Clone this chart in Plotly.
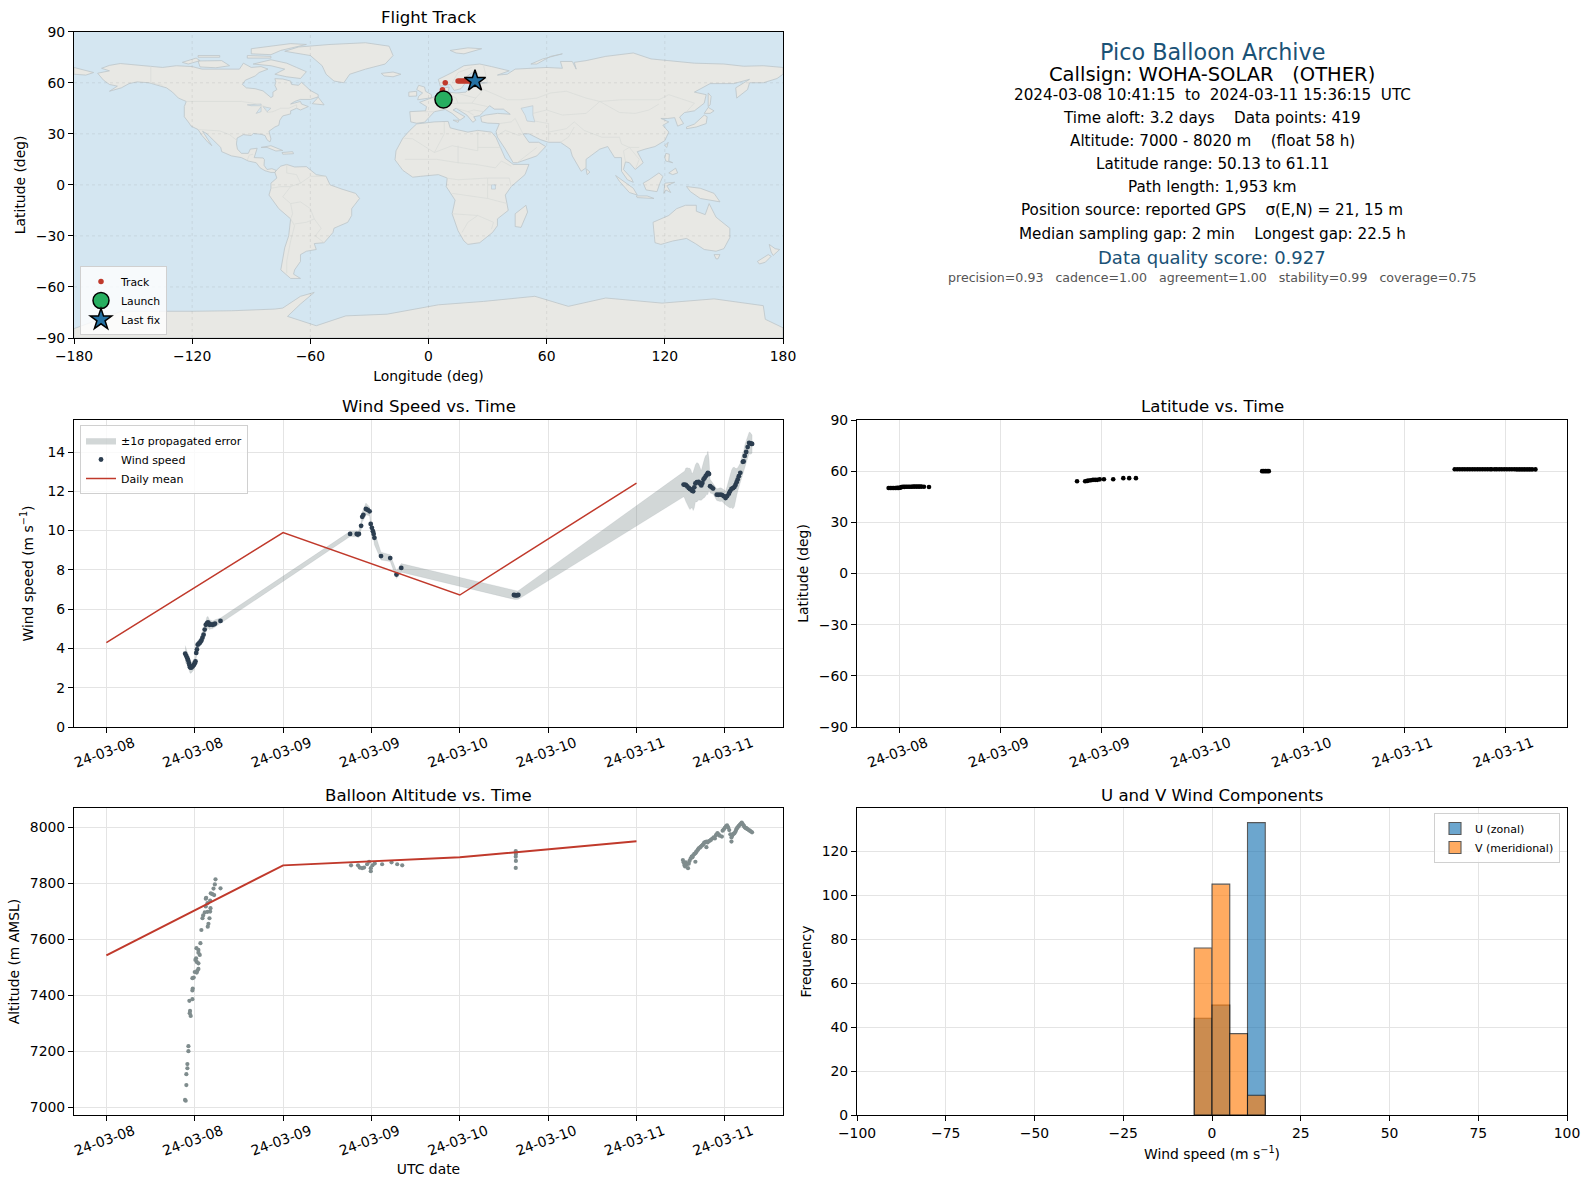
# Pico balloon flight summary
import pandas as pd
import plotly.graph_objects as go

W, H = 1589, 1189
T0 = pd.Timestamp("2024-03-08 00:00:00")

# --- flight data (time = hours since 2024-03-08 00:00 UTC) ---
wind_hours = [10.7, 10.85, 11.0, 11.1, 11.2, 11.3, 11.36, 11.5, 11.6, 11.75, 11.9, 12.0, 12.1, 12.2, 12.3, 12.4, 12.55, 12.67,
              12.8, 12.9, 13.05, 13.2, 13.35, 13.5, 13.65, 13.8, 13.9, 14.0, 14.2, 14.4, 14.6, 14.75, 15.5,
              33.1, 34.0, 34.15, 34.3, 34.6, 34.75, 34.9, 35.25, 35.5, 35.75, 35.9, 36.06, 36.2, 36.3, 36.4, 37.3, 38.55, 39.4, 40.05,
              55.35, 55.5, 55.65, 55.8, 55.95,
              78.4, 78.55, 78.7, 78.9, 79.1, 79.25, 79.4, 79.55, 79.7, 79.85, 80.0, 80.2, 80.45, 80.6, 80.8, 80.95, 81.1, 81.25, 81.4, 81.55, 81.7, 81.85,
              82.0, 82.2, 82.4, 82.9, 83.1, 83.35, 83.6, 83.85, 84.1, 84.3, 84.55, 84.7, 84.9, 85.1, 85.3, 85.45, 85.6, 85.75, 85.9, 86.1,
              86.45, 86.55, 86.7, 86.9, 87.1, 87.3, 87.45, 87.6, 87.7]
wind_speed = [3.73, 3.62, 3.5, 3.4, 3.26, 3.15, 3.04, 3.02, 3.05, 3.1, 3.17, 3.25, 3.34, 3.77, 3.95, 4.19, 4.24, 4.28,
              4.35, 4.41, 4.55, 4.7, 4.96, 5.2, 5.28, 5.33, 5.27, 5.2, 5.22, 5.2, 5.22, 5.26, 5.4,
              9.83, 9.83, 9.8, 9.83, 10.24, 10.7, 10.8, 11.1, 11.05, 10.98, 10.34, 10.14, 9.97, 9.83, 9.63, 8.7, 8.6, 7.76, 8.1,
              6.72, 6.71, 6.7, 6.71, 6.72,
              12.34, 12.33, 12.33, 12.25, 12.17, 12.12, 12.09, 12.03, 12.0, 12.2, 12.4, 12.46, 12.48, 12.4, 12.3, 12.42, 12.6, 12.68, 12.77, 12.85, 12.94, 12.88,
              12.26, 12.2, 12.14, 11.83, 11.82, 11.83, 11.82, 11.75, 11.66, 11.75, 11.88, 12.0, 12.12, 12.16, 12.22, 12.32, 12.46, 12.6, 12.77, 12.94,
              13.5, 13.52, 13.8, 14.0, 14.25, 14.46, 14.44, 14.42, 14.41]
wind_sigma = [0.42, 0.38, 0.35, 0.33, 0.32, 0.3, 0.3, 0.28, 0.27, 0.25, 0.25, 0.22, 0.22, 0.2, 0.2, 0.2, 0.2, 0.2,
              0.2, 0.2, 0.25, 0.3, 0.3, 0.3, 0.32, 0.3, 0.25, 0.25, 0.22, 0.2, 0.2, 0.2, 0.15,
              0.13, 0.15, 0.15, 0.18, 0.2, 0.25, 0.28, 0.3, 0.25, 0.22, 0.2, 0.2, 0.25, 0.3, 0.35, 0.2, 0.17, 0.2, 0.22,
              0.22, 0.22, 0.22, 0.22, 0.22,
              0.62, 0.7, 0.85, 0.95, 1.0, 1.05, 1.0, 0.85, 0.98, 1.05, 0.95, 1.0, 0.92, 0.85, 0.75, 0.85, 0.95, 1.0, 1.05, 1.0, 1.1, 0.8,
              0.35, 0.3, 0.28, 0.3, 0.32, 0.35, 0.33, 0.35, 0.36, 0.5, 0.7, 0.85, 0.95, 1.05, 1.0, 0.85, 0.7, 0.6, 0.55, 0.5,
              0.5, 0.52, 0.55, 0.55, 0.55, 0.55, 0.55, 0.52, 0.45]

mean_hours = [0, 24, 48, 72]
mean_speed = [4.3, 9.9, 6.72, 12.42]
mean_altitude = [7542, 7864, 7893, 7950]

lat_hours = [10.7, 10.9, 11.1, 11.3, 11.5, 11.7, 11.9, 12.1, 12.2, 12.4, 12.6, 12.8, 13.0, 13.2, 13.4, 13.6, 13.8, 14.0, 14.2, 14.4, 14.6, 14.9, 15.5,
             33.1, 34.06, 34.3, 34.5, 34.75, 35.0, 35.25, 35.5, 35.8, 36.3, 37.4, 38.6, 39.3, 40.1,
             55.1, 55.3, 55.5, 55.7, 55.9,
             78.0, 78.3, 78.6, 78.9, 79.2, 79.5, 79.8, 80.1, 80.4, 80.7, 81.0, 81.3, 81.6, 81.9, 82.2, 82.4,
             82.75, 83.0, 83.3, 83.6, 83.9, 84.2, 84.5, 84.8, 85.1, 85.4, 85.7, 86.0, 86.3, 86.6, 86.9, 87.2, 87.6]
latitude = [50.13, 50.13, 50.15, 50.15, 50.15, 50.2, 50.2, 50.3, 50.75, 50.8, 50.8, 50.85, 50.9, 50.9, 50.9, 50.95, 50.95, 50.95, 50.95, 50.95, 50.95, 50.9, 50.7,
            54.1, 54.1, 54.3, 54.5, 54.7, 54.9, 54.9, 54.9, 55.2, 55.3, 55.3, 55.9, 55.9, 55.9,
            60.0, 60.0, 60.0, 60.0, 60.0,
            61.1, 61.1, 61.1, 61.1, 61.11, 61.11, 61.1, 61.1, 61.1, 61.1, 61.1, 61.1, 61.1, 61.1, 61.1, 61.1,
            61.1, 61.1, 61.1, 61.1, 61.1, 61.1, 61.1, 61.1, 61.1, 61.05, 61.05, 61.05, 61.05, 61.05, 61.05, 61.05, 61.05]

alt_hours = [10.77, 10.68, 10.86, 10.86, 11.0, 11.0, 11.14, 11.14, 11.45, 11.32, 11.36, 11.27, 11.68, 11.68, 11.73, 11.68, 11.86, 12.0, 12.27, 12.5, 12.36, 12.5, 12.27, 12.09, 12.18,
             12.68, 12.5, 12.5, 12.23, 12.77, 12.9, 13.77, 13.86, 13.05, 13.14, 13.36, 13.73, 14.09, 14.0, 14.14, 13.5, 13.73, 14.09, 13.5, 13.55, 14.18, 14.41, 14.55, 14.73, 14.82, 15.5, 14.64,
             33.23, 34.18, 34.41, 34.73, 35.0, 35.41, 35.68, 35.91, 35.91, 36.14, 36.45, 37.45, 38.73, 39.5, 40.18,
             55.6, 55.62, 55.6, 55.62, 55.6,
             78.3, 78.4, 78.5, 78.6, 78.7, 78.85, 79.0, 79.1, 79.2, 79.35, 79.5, 79.6, 79.7, 79.85, 80.0, 80.0, 80.1, 80.2, 80.35, 80.45, 80.6, 80.7, 80.85, 81.0, 81.1, 81.2, 81.35, 81.5, 81.5, 81.65, 81.8, 81.95, 82.1, 82.3, 82.5, 82.65, 82.8, 82.9, 83.0, 83.15, 83.3, 83.6, 83.7, 83.85, 84.0, 84.15, 84.3, 84.45, 84.6, 84.75, 84.9, 84.9, 85.0, 85.1, 85.2, 85.3, 85.45, 85.55, 85.65, 85.8, 85.9, 86.05, 86.2, 86.3, 86.4, 86.5, 86.6, 86.7, 86.8, 86.9, 87.0, 87.1, 87.25, 87.4, 87.55, 87.7]
altitude = [7023, 7026, 7079, 7118, 7139, 7154, 7200, 7218, 7326, 7336, 7344, 7380, 7386, 7417, 7424, 7461, 7463, 7483, 7481, 7494, 7488, 7514, 7519, 7526, 7532,
            7544, 7552, 7562, 7568, 7586, 7633, 7645, 7655, 7675, 7685, 7696, 7698, 7699, 7675, 7711, 7717, 7729, 7738, 7745, 7748, 7764, 7761, 7781, 7796, 7814, 7782, 7758,
            7864, 7864, 7856, 7854, 7856, 7868, 7877, 7854, 7843, 7864, 7871, 7868, 7875, 7868, 7864,
            7915, 7905, 7895, 7880, 7855,
            7883, 7875, 7865, 7860, 7875, 7868, 7854, 7870, 7880, 7888, 7895, 7893, 7900, 7905, 7907, 7877, 7912, 7915, 7920, 7925, 7927, 7930, 7934, 7937, 7940, 7945, 7947, 7949, 7929, 7946, 7950, 7952, 7955, 7960, 7964, 7960, 7972, 7975, 7979, 7975, 7970, 7967, 7988, 7992, 7998, 8003, 8007, 8000, 7990, 7975, 7949, 7964, 7970, 7975, 7977, 7979, 7985, 7992, 7997, 8002, 8005, 8010, 8013, 8017, 8012, 8008, 8005, 8000, 7998, 7997, 7995, 7993, 7990, 7988, 7985, 7982]

hist_edges = [-5, 0, 5, 10]
u_counts = [44, 50, 0, 133]
v_counts = [76, 105, 37, 9]

track_lon = [7.0, 7.2, 7.4, 7.0, 7.1, 8.5, 15.0, 16.0, 17.0, 18.0, 19.0, 20.0, 21.0, 22.0, 23.0]
track_lat = [50.13, 50.8, 50.9, 54.5, 55.9, 60.0, 61.1, 61.1, 61.1, 61.1, 61.1, 61.1, 61.1, 61.05, 61.05]
launch_lon, launch_lat = [7.6], [50.13]
last_lon, last_lat = [23.6], [61.05]

# --- axis ticks ---
lon_ticks = [-180, -120, -60, 0, 60, 120, 180]
lat_ticks = [-90, -60, -30, 0, 30, 60, 90]
left_tick_hours = [0, 12, 24, 36, 48, 60, 72, 84]
left_tick_text = ["24-03-08", "24-03-08", "24-03-09", "24-03-09", "24-03-10", "24-03-10", "24-03-11", "24-03-11"]
lat_tick_hours = [12, 24, 36, 48, 60, 72, 84]
lat_tick_text = ["24-03-08", "24-03-09", "24-03-09", "24-03-10", "24-03-10", "24-03-11", "24-03-11"]

# --- base map outlines (lon, lat), rough coastlines since no geo tiles are reachable ---
north_america = [(-168, 65.6), (-164, 66.5), (-162, 67), (-166, 68.5), (-162, 70.2), (-156.5, 71.3), (-150, 70.5), (-141, 69.7), (-135, 69), (-128, 70), (-120, 69.5), (-115, 68), (-108, 68), (-102, 68), (-96, 68), (-94, 71.5), (-90, 69), (-85, 69.5), (-81.5, 68), (-86, 66), (-88, 64), (-93, 61.5), (-94.5, 59), (-92.5, 57), (-88, 56.5), (-84, 55.2), (-82, 53), (-80, 51.3), (-79, 52), (-79, 54.5), (-77, 56), (-78, 58.5), (-77.5, 60.5), (-78, 62.4), (-74, 62.2), (-70, 61), (-69.5, 59), (-66, 58.5), (-64.5, 60.3), (-62, 57.5), (-60, 55.5), (-56, 53), (-56, 51.7), (-60, 50.2), (-65, 50.2), (-68, 49), (-70, 47.5), (-65, 49), (-64.5, 47.5), (-61, 46), (-65, 44), (-67, 45), (-70, 43.5), (-70, 41.7), (-74, 40.5), (-75.5, 38), (-76, 35), (-78, 34), (-81, 31.5), (-80, 27), (-80.5, 25.2), (-82, 26.5), (-83, 29), (-85, 29.7), (-89, 30.2), (-90, 29), (-94, 29.5), (-97.2, 27.5), (-97.5, 24), (-97, 21), (-95, 18.5), (-91.5, 18.5), (-90.5, 21), (-87, 21.5), (-88, 18), (-88.5, 16), (-84, 15.8), (-83.3, 14.8), (-83.5, 11.5), (-82, 9), (-79.5, 9.5), (-77.3, 8.5), (-78, 7.3), (-80, 7.3), (-83, 8.3), (-85.5, 10), (-87.5, 13), (-91.5, 14), (-95, 16), (-100, 17), (-105, 19.5), (-105.5, 22), (-109, 26), (-112.5, 30), (-114.7, 31.5), (-112, 27), (-110, 23), (-112, 25), (-115, 29), (-117, 32.5), (-120.5, 34.5), (-122, 37), (-124, 40), (-124, 46), (-123, 49), (-127, 51), (-130, 54.5), (-133, 57), (-137, 58.5), (-142, 60), (-148, 60.5), (-152, 59.5), (-156, 57), (-162, 55), (-158, 58), (-162, 59), (-165, 61.5)]
greenland = [(-73, 78.5), (-66, 81), (-50, 82.5), (-32, 83.5), (-20, 81.5), (-18, 76), (-22, 71), (-32, 68), (-40, 65), (-43, 60), (-48, 61), (-52, 65), (-54, 70), (-60, 76)]
baffin = [(-80, 73.5), (-72, 71.5), (-67, 69), (-62, 66.5), (-65, 62.5), (-72, 63.5), (-78, 65), (-73, 68), (-80, 70), (-89, 71)]
victoria_island = [(-117, 72.8), (-105, 73), (-101, 70), (-108, 68.8), (-116, 69.3)]
ellesmere = [(-90, 80), (-70, 83), (-62, 82.5), (-75, 79), (-80, 76.5), (-90, 77)]
banks = [(-125, 72), (-118, 74.5), (-116, 73), (-122, 71)]
devon = [(-92, 76), (-80, 75.5), (-80, 74.5), (-92, 74.5)]
melville = [(-117, 76), (-106, 76), (-106, 75), (-117, 75)]
newfoundland = [(-59, 47.7), (-56, 51.5), (-53, 47)]
cuba = [(-85, 22), (-80, 23), (-74, 20.2), (-77.5, 19.9), (-82, 22)]
hispaniola = [(-74.4, 19), (-69, 19.5), (-68.5, 18.3), (-74, 18)]
south_america = [(-77.3, 8.5), (-75, 11), (-72, 12), (-68, 10.5), (-62, 10.7), (-57, 6), (-52, 5), (-50, 0), (-44, -2.5), (-37, -5), (-35, -8), (-39, -14), (-39, -18), (-41, -22), (-48, -25.5), (-48.5, -28), (-53, -34), (-58, -34.5), (-57, -38), (-62, -39), (-65, -41), (-65, -45), (-68, -50), (-68.5, -52.5), (-65, -55), (-70, -55), (-75, -50), (-74, -43), (-73, -37), (-71, -30), (-70, -20), (-76, -14), (-81, -6), (-80, -2), (-80, 1), (-77, 4), (-78, 7.3)]
africa = [(-6, 35.8), (3, 37), (10, 37.3), (11, 33.5), (15, 32.3), (20, 31), (25, 32), (32, 31), (34.2, 28), (37, 21), (39, 15.5), (43, 12), (51, 12), (49, 6), (42, -1), (39, -6), (40.5, -15), (35, -20), (35, -24), (32.5, -28), (26, -34), (20, -35), (18, -33), (15, -27), (12, -17), (13.5, -9), (9, -1), (9.5, 4), (5, 6), (-4, 5), (-8, 4.5), (-13, 8.5), (-17, 14.7), (-16.5, 20), (-13, 27.5), (-9.5, 32)]
eurasia = [(-9, 37), (-9.5, 43), (-1.5, 43.5), (-1, 46), (-4.5, 48.5), (2, 51), (6, 53), (8.5, 54), (8, 57), (10.5, 57.5), (10, 54.5), (14, 54), (19, 54.5), (21, 57), (24, 57.5), (24, 59.5), (30, 60), (23, 60), (21.5, 63), (25, 65.5), (22, 65.8), (17.5, 62), (18.5, 59.5), (16.5, 56.5), (13, 55.5), (11, 59), (6, 58), (5, 62), (12, 66), (18, 70), (26, 71), (32, 69.5), (41, 67), (35, 64.5), (40, 65), (44, 68), (54, 68.5), (60, 69), (68, 68.5), (67, 72.5), (73, 72.5), (75, 68), (74, 72), (80, 73), (90, 75.5), (104, 77.5), (113, 74), (128, 72.5), (135, 71.5), (150, 71), (160, 69.7), (170, 70), (180, 69), (180, 65), (177, 62.5), (170, 60), (163, 60), (162, 56), (156.5, 51), (156, 57), (163, 62), (155, 59.5), (143, 59.5), (135, 54.5), (141, 53), (140, 48), (135, 43.5), (130, 42.5), (127.5, 39.8), (129.5, 36), (126.5, 34.5), (125, 39.5), (121.5, 39), (118, 39), (122, 37), (119, 35), (122, 31), (120, 26), (115, 22.5), (110, 21), (106, 19.5), (109, 13), (105, 9), (102, 13), (100, 13.5), (99, 9), (103, 4), (104, 1.5), (101, 3), (98, 8), (98, 16), (94.5, 16), (91, 22.5), (87, 21), (80, 15), (80, 10), (77.5, 8), (73, 17), (72, 21), (67, 25), (61, 25), (57, 26.5), (51, 30), (48, 30), (51, 25), (56, 25), (59.5, 22.5), (55, 17), (45, 13), (43, 13), (39, 21), (35, 28), (34.3, 31.3), (36, 36), (30, 36.3), (27, 37), (26.5, 40), (29, 41), (35, 42), (41.5, 41.5), (38, 44.5), (33.5, 44.5), (31, 46.5), (28, 43), (26, 40.7), (23, 40), (24, 38), (22.5, 36.8), (19.5, 41), (14, 45), (12.5, 44), (18.5, 40), (16, 38), (12, 42), (8.5, 44.3), (3, 43), (0, 39), (-2, 36.8), (-6, 36.2)]
chukotka = [(-180, 69), (-175, 67.5), (-170, 66), (-174, 64.5), (-180, 65)]
britain = [(-5.5, 50), (1.5, 51.2), (1.5, 53), (-1.5, 55), (-2, 57.5), (-5, 58.5), (-6, 56), (-3, 54), (-5, 52)]
ireland = [(-10, 52), (-6, 52.2), (-6, 55), (-10, 54.5)]
iceland = [(-24, 65.5), (-18, 66.3), (-14, 65), (-18, 63.5), (-22.5, 64)]
svalbard = [(11, 79), (20, 80.5), (27, 80), (18, 77), (14, 77.5)]
novaya_zemlya = [(52, 71), (58, 74), (68, 77), (62, 75.5), (55, 71)]
sicily = [(12.5, 38), (15.5, 38), (15, 36.7)]
honshu = [(131, 34), (135, 35.7), (140, 41), (141.5, 40), (141, 36), (136, 34), (131, 33)]
hokkaido = [(140, 42), (142, 45.5), (145, 43.5), (143, 42)]
sakhalin = [(142, 46), (142, 54), (143.5, 52), (143, 47)]
taiwan = [(120, 23), (121.7, 25), (121, 22)]
luzon = [(120, 16), (120.5, 18.5), (122.3, 18), (122, 14), (124, 13), (120.5, 14)]
mindanao = [(122, 7), (125.5, 9.8), (126.5, 7), (124, 6)]
sumatra = [(95, 5.5), (104, -2), (106, -6), (102, -4.5), (97, 2)]
borneo = [(109, 1), (112, 3), (117, 7), (119, 5), (117.5, 1), (116, -4), (110.5, -3)]
java = [(105.5, -6.5), (111, -6.5), (114.5, -8), (106, -7.5)]
sulawesi = [(119.5, -5), (120, 1), (125, 1.5), (121, -0.5), (123, -4.5), (120.5, -3)]
new_guinea = [(131, -1), (138, -2), (145, -5), (148, -10), (143, -9), (138, -8), (133, -4)]
sri_lanka = [(80, 9.5), (82, 7.5), (80.5, 6)]
australia = [(114, -22), (122, -18), (126, -14), (130.5, -12), (136, -12), (136, -15.5), (140.5, -17.5), (142.5, -11), (146, -19), (153, -25.5), (153, -31), (150, -37.5), (146, -39), (140, -38), (135.5, -34.5), (131, -31.5), (124, -33), (118, -35), (115, -34)]
tasmania = [(145, -41), (148, -41), (147, -43.5), (146, -43.5)]
nz_north = [(173, -35), (176, -37.5), (178.3, -38), (175, -41.5), (174, -39.5)]
nz_south = [(172.5, -41), (174, -42), (171, -45.5), (168, -46.5), (167, -45)]
madagascar = [(49.5, -12), (50.3, -16), (47, -25), (44, -24.5), (44, -17)]
antarctica = [(-180, -84.5), (-156, -74.3), (-120, -74.3), (-100, -74), (-78, -73), (-74, -72.4), (-65, -65.5), (-58, -63.2), (-65, -70), (-71.6, -77.3), (-57, -82.8), (-42, -77), (-21, -76), (5, -70.5), (28, -68.5), (54, -65.5), (71, -71.4), (90, -66.5), (118.6, -69.5), (145, -67), (170, -71), (171, -79), (180, -84), (180, -90), (-180, -90)]
land_polygons = [north_america, greenland, baffin, victoria_island, ellesmere, banks, devon, melville, newfoundland, cuba, hispaniola,
                 south_america, africa, eurasia, chukotka, britain, ireland, iceland, svalbard, novaya_zemlya, sicily, honshu, hokkaido,
                 sakhalin, taiwan, luzon, mindanao, sumatra, borneo, java, sulawesi, new_guinea, sri_lanka, australia, tasmania,
                 nz_north, nz_south, madagascar, antarctica]
lake_polygons = [[(47, 45), (53, 46.5), (53, 41), (54, 37), (50, 37.5), (49, 41)],
                 [(-92, 47), (-85, 47.5), (-85, 46.5), (-90, 46.5)],
                 [(-87.5, 42), (-85, 46), (-85, 43)],
                 [(-84, 46), (-80, 45), (-82, 43)],
                 [(32, 0), (34, 0), (34, -2.5), (32, -2.5)]]
border_lines = [[(-123, 49), (-95, 49), (-89, 48), (-83, 46), (-82, 42.5), (-79, 43), (-75, 45), (-71, 45), (-67, 47), (-67, 45)],
                [(-141, 69.7), (-141, 60), (-135, 58.5)],
                [(-117, 32.5), (-108, 31.5), (-106, 31.7), (-101, 29.5), (-97.2, 26)],
                [(-92, 14.5), (-91, 17.5), (-89, 18)],
                [(-52, 5), (-60, 5), (-65, 1), (-70, -1), (-74, -7), (-70, -11), (-65, -10), (-60, -14), (-58, -20), (-54.5, -25.5), (-57.5, -30), (-53, -34)],
                [(-70, -20), (-68, -24), (-70, -33), (-72, -45), (-72, -52)],
                [(-70, -11), (-69, -17), (-70, -20)],
                [(-58, -20), (-62, -22), (-68, -23)],
                [(-72, 12), (-72, 7), (-67, 6), (-65, 1)],
                [(-80, -2), (-75, -1), (-70, -1)],
                [(-13, 27.5), (-8, 27), (3, 19), (12, 23), (25, 20), (25, 31.5)],
                [(25, 22), (37, 22)],
                [(-12, 15), (4, 15), (15, 13), (24, 12), (34, 10), (37, 14), (42, 11)],
                [(9, 4), (15, 3), (30, 4), (41, 4), (42, -1)],
                [(12, -5), (30, -8), (40, -11)],
                [(12, -17), (25, -18), (33, -22), (32, -26)],
                [(17, -28), (20, -22), (25, -18)],
                [(8, 37), (8, 30), (3, 19)],
                [(15, 13), (15, 23)],
                [(30, 4), (30, -8)],
                [(28, 56), (40, 50), (47, 50), (55, 51), (62, 54), (70, 55), (80, 51), (87, 49), (98, 50), (107, 50), (117, 50), (122, 53), (135, 48), (131, 43)],
                [(74, 37), (79, 32), (88, 28), (97, 28), (98, 24), (102, 22), (107, 22)],
                [(87, 49), (97, 42.5), (105, 42), (112, 44), (117, 47.5)],
                [(53, 42), (60, 44), (68, 41), (80, 42), (87, 49)],
                [(44, 39), (46, 34), (48, 30)],
                [(61, 25), (61, 31), (61, 36), (54, 37.5)],
                [(61, 31), (70, 33), (74, 37)],
                [(67, 25), (71, 28), (74, 34)],
                [(36, 36), (42, 37), (44, 39)],
                [(35, 29), (39, 32), (46, 29), (48, 30)],
                [(45, 13), (52, 19), (55, 22)],
                [(-2, 43), (3, 43)],
                [(2, 51), (8, 49), (7, 44)],
                [(8.5, 54), (14, 51), (15, 48), (9, 47.5)],
                [(14, 54), (24, 51), (28, 56)],
                [(24, 51), (22, 48), (30, 46)],
                [(15, 48), (22, 48)],
                [(14, 45), (20, 43), (23, 41)],
                [(28, 43), (23, 44), (20, 43)],
                [(30, 60), (28, 70)],
                [(12, 60), (15, 66), (22, 69)],
                [(100, 13.5), (99, 20), (102, 22)],
                [(105, 9), (107, 15), (102, 22)]]


def hours_to_time(hours):
    return T0 + pd.to_timedelta(hours, unit="h")


def polygon_xy(polygons):
    xs, ys = [], []
    for poly in polygons:
        xs += [p[0] for p in poly] + [poly[0][0], None]
        ys += [p[1] for p in poly] + [poly[0][1], None]
    return xs, ys


def polyline_xy(lines):
    xs, ys = [], []
    for line in lines:
        xs += [p[0] for p in line] + [None]
        ys += [p[1] for p in line] + [None]
    return xs, ys


def dom_x(left, right):
    return [left / W, right / W]


def dom_y(top, bottom):
    return [1 - bottom / H, 1 - top / H]


COL_MEAN = "#c0392b"
COL_WIND = "#2c3e50"
COL_ALT = "#7f8c8d"
COL_TITLE = "#1a5276"
GRID = "#e4e4e4"
FONT = "DejaVu Sans"
SIZE = 13.9

fig = go.Figure()

# Flight track map
land_x, land_y = polygon_xy(land_polygons)
fig.add_trace(go.Scatter(x=land_x, y=land_y, mode="lines", fill="toself", fillcolor="#e8e8e4",
                         line=dict(color="#bcc5c9", width=0.8), showlegend=False, hoverinfo="skip", xaxis="x", yaxis="y"))
lake_x, lake_y = polygon_xy(lake_polygons)
fig.add_trace(go.Scatter(x=lake_x, y=lake_y, mode="lines", fill="toself", fillcolor="#d4e6f1",
                         line=dict(color="#bcc5c9", width=0.6), showlegend=False, hoverinfo="skip", xaxis="x", yaxis="y"))
border_x, border_y = polyline_xy(border_lines)
fig.add_trace(go.Scatter(x=border_x, y=border_y, mode="lines", line=dict(color="#d9dbd8", width=0.7),
                         showlegend=False, hoverinfo="skip", xaxis="x", yaxis="y"))
# gridlines have to sit over the land, so they are a trace here
grid_x, grid_y = [], []
for lon in lon_ticks[1:-1]:
    grid_x += [lon, lon, None]
    grid_y += [-90, 90, None]
for lat in lat_ticks[1:-1]:
    grid_x += [-180, 180, None]
    grid_y += [lat, lat, None]
fig.add_trace(go.Scatter(x=grid_x, y=grid_y, mode="lines", line=dict(color="rgba(128,128,128,0.3)", width=0.5, dash="dot"),
                         showlegend=False, hoverinfo="skip", xaxis="x", yaxis="y"))
fig.add_trace(go.Scatter(x=track_lon, y=track_lat, mode="markers", name="Track", legend="legend",
                         marker=dict(color=COL_MEAN, size=5.5), xaxis="x", yaxis="y"))
fig.add_trace(go.Scatter(x=launch_lon, y=launch_lat, mode="markers", name="Launch", legend="legend",
                         marker=dict(color="#27ae60", size=17, line=dict(color="black", width=1.5)), xaxis="x", yaxis="y"))
fig.add_trace(go.Scatter(x=last_lon, y=last_lat, mode="markers", name="Last fix", legend="legend",
                         marker=dict(color="#2471a3", size=16, symbol="star", line=dict(color="black", width=1.5)), xaxis="x", yaxis="y"))

# Wind speed
wind_time = hours_to_time(wind_hours)
upper = [v + s for v, s in zip(wind_speed, wind_sigma)]
lower = [v - s for v, s in zip(wind_speed, wind_sigma)]
fig.add_trace(go.Scatter(x=list(wind_time) + list(wind_time[::-1]), y=upper + lower[::-1], mode="lines", fill="toself",
                         fillcolor="rgba(127,140,141,0.35)", line=dict(color="rgba(127,140,141,0.2)", width=0.6),
                         name="±1σ propagated error", legend="legend2", xaxis="x2", yaxis="y2"))
fig.add_trace(go.Scatter(x=wind_time, y=wind_speed, mode="markers", name="Wind speed", legend="legend2",
                         marker=dict(color=COL_WIND, size=4.8), xaxis="x2", yaxis="y2"))
fig.add_trace(go.Scatter(x=hours_to_time(mean_hours), y=mean_speed, mode="lines", name="Daily mean", legend="legend2",
                         line=dict(color=COL_MEAN, width=1.5), xaxis="x2", yaxis="y2"))

# Latitude
fig.add_trace(go.Scatter(x=hours_to_time(lat_hours), y=latitude, mode="markers", showlegend=False,
                         marker=dict(color="black", size=4.6), xaxis="x3", yaxis="y3"))

# Altitude
fig.add_trace(go.Scatter(x=hours_to_time(alt_hours), y=altitude, mode="markers", showlegend=False,
                         marker=dict(color=COL_ALT, size=4.2), xaxis="x4", yaxis="y4"))
fig.add_trace(go.Scatter(x=hours_to_time(mean_hours), y=mean_altitude, mode="lines", showlegend=False,
                         line=dict(color=COL_MEAN, width=2), xaxis="x4", yaxis="y4"))

# Wind components histogram
bin_centres = [e + 2.5 for e in hist_edges]
fig.add_trace(go.Bar(x=bin_centres, y=u_counts, width=5, name="U (zonal)", legend="legend3", opacity=0.65,
                     marker=dict(color="#1f77b4", line=dict(color="black", width=1.1)), xaxis="x5", yaxis="y5"))
fig.add_trace(go.Bar(x=bin_centres, y=v_counts, width=5, name="V (meridional)", legend="legend3", opacity=0.65,
                     marker=dict(color="#ff7f0e", line=dict(color="black", width=1.1)), xaxis="x5", yaxis="y5"))

base_axis = dict(showline=True, mirror=True, linecolor="black", linewidth=1.1, ticks="outside", ticklen=5, tickwidth=1.1,
                 tickcolor="black", zeroline=False, automargin=False, tickfont=dict(family=FONT, size=SIZE, color="black"))
grid_axis = dict(base_axis, showgrid=True, gridcolor=GRID, gridwidth=1)


def time_axis(domain, anchor, ticks, labels, hour_range, title=None):
    axis = dict(grid_axis, type="date", domain=domain, anchor=anchor, tickmode="array", tickangle=-20,
                ticklabelshift=27, ticklabelstandoff=-3,
                tickvals=list(hours_to_time(ticks)), ticktext=labels, range=list(hours_to_time(hour_range)))
    if title:
        axis["title"] = dict(text=title, standoff=6, font=dict(family=FONT, size=SIZE))
    return axis


def y_title(text, standoff=6):
    return dict(text=text, standoff=standoff, font=dict(family=FONT, size=SIZE))


LEFT_X = dom_x(74, 783)
RIGHT_X = dom_x(857, 1567)
LEFT_MID = 428.5
RIGHT_MID = 1212
left_range = [-4.4, 91.9]
lat_range = [6.94, 91.35]

fig.update_layout(
    width=W, height=H, margin=dict(l=0, r=0, t=0, b=0), paper_bgcolor="white", plot_bgcolor="white",
    barmode="overlay", showlegend=True, font=dict(family=FONT, size=SIZE, color="black"),
    xaxis=dict(base_axis, domain=LEFT_X, anchor="y", range=[-180, 180], tickmode="array", tickvals=lon_ticks, showgrid=False,
               title=dict(text="Longitude (deg)", standoff=8, font=dict(family=FONT, size=SIZE))),
    yaxis=dict(base_axis, domain=dom_y(31.7, 338), anchor="x", range=[-90, 90], tickmode="array", tickvals=lat_ticks, showgrid=False,
               title=y_title("Latitude (deg)")),
    xaxis2=time_axis(LEFT_X, "y2", left_tick_hours, left_tick_text, left_range),
    yaxis2=dict(grid_axis, domain=dom_y(420, 727), anchor="x2", range=[0, 15.63], tickmode="array", tickvals=[0, 2, 4, 6, 8, 10, 12, 14],
                title=y_title("Wind speed (m s<sup>−1</sup>)", 10)),
    xaxis3=time_axis(RIGHT_X, "y3", lat_tick_hours, lat_tick_text, lat_range),
    yaxis3=dict(grid_axis, domain=dom_y(420, 727), anchor="x3", range=[-90, 90], tickmode="array", tickvals=lat_ticks,
                title=y_title("Latitude (deg)")),
    xaxis4=time_axis(LEFT_X, "y4", left_tick_hours, left_tick_text, left_range, "UTC date"),
    yaxis4=dict(grid_axis, domain=dom_y(808, 1115), anchor="x4", range=[6972, 8069], tickmode="array",
                tickvals=[7000, 7200, 7400, 7600, 7800, 8000], title=y_title("Altitude (m AMSL)")),
    xaxis5=dict(grid_axis, domain=RIGHT_X, anchor="y5", range=[-100, 100], tickmode="array", tickvals=[-100, -75, -50, -25, 0, 25, 50, 75, 100],
                title=dict(text="Wind speed (m s<sup>−1</sup>)", standoff=9, font=dict(family=FONT, size=SIZE))),
    yaxis5=dict(grid_axis, domain=dom_y(808, 1115), anchor="x5", range=[0, 139.65], tickmode="array", tickvals=[0, 20, 40, 60, 80, 100, 120],
                title=y_title("Frequency")),
    legend=dict(x=80 / W, y=1 - 266 / H, xanchor="left", yanchor="top", bgcolor="rgba(255,255,255,0.8)", bordercolor="#d0d0d0", borderwidth=1,
                font=dict(family=FONT, size=10.8), itemsizing="trace", tracegroupgap=0),
    legend2=dict(x=80 / W, y=1 - 425 / H, xanchor="left", yanchor="top", bgcolor="rgba(255,255,255,0.8)", bordercolor="#d0d0d0", borderwidth=1,
                 font=dict(family=FONT, size=11), tracegroupgap=0),
    legend3=dict(x=1560 / W, y=1 - 813 / H, xanchor="right", yanchor="top", bgcolor="rgba(255,255,255,0.8)", bordercolor="#d0d0d0", borderwidth=1,
                 font=dict(family=FONT, size=11), tracegroupgap=0),
)
# ocean colour only for the map panel
fig.add_shape(type="rect", xref="x domain", yref="y domain", x0=0, x1=1, y0=0, y1=1, fillcolor="#d4e6f1", line_width=0, layer="below")

panel_titles = [("Flight Track", LEFT_MID, 18), ("Wind Speed vs. Time", LEFT_MID, 406), ("Latitude vs. Time", RIGHT_MID, 406),
                ("Balloon Altitude vs. Time", LEFT_MID, 795), ("U and V Wind Components", RIGHT_MID, 795)]
for text, px, py in panel_titles:
    fig.add_annotation(text=text, xref="paper", yref="paper", x=px / W, y=1 - py / H, showarrow=False,
                       xanchor="center", yanchor="middle", font=dict(family=FONT, size=16.6, color="black"))

info_lines = [
    ("Pico Balloon Archive", 52, 22.3, COL_TITLE),
    ("Callsign: WOHA-SOLAR   (OTHER)", 74, 19.5, "black"),
    ("2024-03-08 10:41:15  to  2024-03-11 15:36:15  UTC", 95, 15.2, "black"),
    ("Time aloft: 3.2 days    Data points: 419", 118, 15.2, "black"),
    ("Altitude: 7000 - 8020 m    (float 58 h)", 141, 15.2, "black"),
    ("Latitude range: 50.13 to 61.11", 164, 15.2, "black"),
    ("Path length: 1,953 km", 187, 15.2, "black"),
    ("Position source: reported GPS    σ(E,N) = 21, 15 m", 210, 15.2, "black"),
    ("Median sampling gap: 2 min    Longest gap: 22.5 h", 234, 15.2, "black"),
    ("Data quality score: 0.927", 257, 18, COL_TITLE),
    ("precision=0.93   cadence=1.00   agreement=1.00   stability=0.99   coverage=0.75", 278, 12.6, "#555555"),
]
for text, py, size, colour in info_lines:
    fig.add_annotation(text=text.replace("  ", "&nbsp;&nbsp;"), xref="paper", yref="paper", x=RIGHT_MID / W, y=1 - py / H, showarrow=False,
                       xanchor="center", yanchor="middle", font=dict(family=FONT, size=size, color=colour))

fig.write_html("out.html", config={"displayModeBar": False}, post_script="document.body.style.margin='0';")
